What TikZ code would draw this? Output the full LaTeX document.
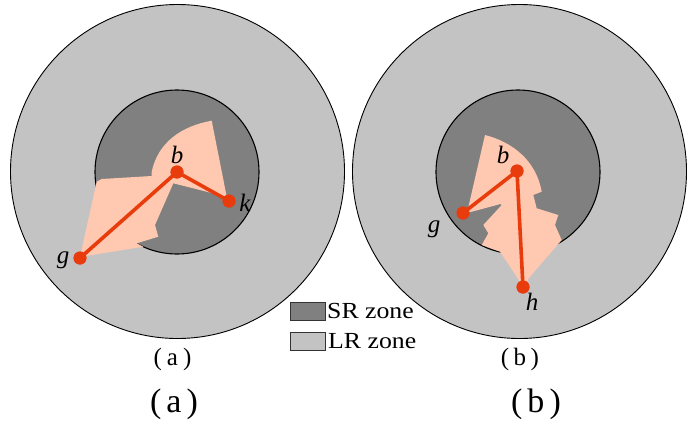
\documentclass[tikz,border=0pt]{standalone}
\usepackage{fontspec}
\setmainfont{Liberation Serif}
\begin{document}
\begin{tikzpicture}[x=1pt,y=-1pt]
\definecolor{lrgray}{HTML}{C3C3C3}
\definecolor{srgray}{HTML}{808080}
\definecolor{peach}{HTML}{FFC8B0}
\definecolor{redor}{HTML}{E83C0C}
\tikzset{
  outerzone/.style={fill=lrgray,draw=black,line width=0.9pt},
  innerzone/.style={fill=srgray,draw=black,line width=1.1pt},
  region/.style={fill=peach,draw=none},
  link/.style={draw=redor,line width=3.6pt},
  dot/.style={circle,fill=redor,inner sep=0pt,minimum size=13pt},
  lab/.style={font=\fontsize{25}{25}\selectfont\itshape,inner sep=0pt},
  legbox/.style={draw=black!80,line width=0.8pt},
  legtext/.style={font=\fontsize{23}{23}\selectfont,inner sep=0pt,anchor=west},
  captext/.style={inner sep=0pt}
}
\useasboundingbox (0,0) rectangle (689,421);
% ---------- (a) ----------
\fill[white] (0,0) rectangle (689,421);
\draw[outerzone] (177.5,171.5) circle[radius=167];
\draw[innerzone] (177,172) circle[radius=82];
\fill[region] (211.7,120.7) -- (226.7,196.7) -- (173.3,183.3) -- (155,225) -- (158.3,236.7)
  -- (136.7,243.3) -- (143.3,246.7) -- (80,257) -- (96.7,181.7) -- (101.7,179)
  -- (151.7,176) -- (151.7,171.7) .. controls (158,142) and (182,126) .. (211.7,120.7) -- cycle;
\node[dot] (ab) at (177,172) {};
\node[dot] (ak) at (229,201) {};
\node[dot] (ag) at (80,258) {};
\draw[link] (ag.center) -- (ab.center) -- (ak.center);
\node[dot] at (ab) {};
\node[dot] at (ak) {};
\node[dot] at (ag) {};
\node[lab] (lab-ab) at (177,155) {b};
\node[lab] (lab-ak) at (245,203) {k};
\node[lab] (lab-ag) at (63,260) {g};
% ---------- (b) ----------
\draw[outerzone] (519.5,171.5) circle[radius=167];
\draw[innerzone] (518,172) circle[radius=82];
\fill[region] (485,135) .. controls (512,142) and (536,160) .. (541.7,191.7)
  -- (533.3,195) -- (536.7,208.3) -- (558.3,215) -- (555,225) -- (561.7,240)
  -- (530,276.7) -- (523.3,286.7) -- (500,251.7) -- (481.7,245) -- (488.3,233.3)
  -- (483.3,225) -- (501.7,205) -- (500.5,204) -- (467,213) -- cycle;
\node[dot] (bb) at (517,171) {};
\node[dot] (bg) at (463,213) {};
\node[dot] (bh) at (523,287) {};
\draw[link] (bg.center) -- (bb.center) -- (bh.center);
\node[dot] at (bb) {};
\node[dot] at (bg) {};
\node[dot] at (bh) {};
\node[lab] (lab-bb) at (503,155) {b};
\node[lab] (lab-bg) at (434,229) {g};
\node[lab] (lab-bh) at (532,302) {h};
% ---------- legend ----------
\draw[legbox,fill=srgray] (290.5,302) rectangle (325,320);
\draw[legbox,fill=lrgray] (290.5,332) rectangle (325,350);
\node[legtext] (srt) at (327,311) {\scalebox{1.12}[1]{SR zone}};
\node[legtext] (lrt) at (328,341) {\scalebox{1.12}[1]{LR zone}};
% ---------- captions ----------
\node[captext,font=\fontsize{25}{25}\selectfont] (capa1) at (172.5,359) {(\hspace{0.2em}a\hspace{0.2em})};
\node[captext,font=\fontsize{25}{25}\selectfont] (capb1) at (520,359) {(\hspace{0.18em}b\hspace{0.18em})};
\node[captext,font=\fontsize{34}{34}\selectfont] (capa2) at (174,404) {(\hspace{0.15em}a\hspace{0.15em})};
\node[captext,font=\fontsize{34}{34}\selectfont] (capb2) at (536,404) {(\hspace{0.15em}b\hspace{0.15em})};
\end{tikzpicture}
\end{document}
